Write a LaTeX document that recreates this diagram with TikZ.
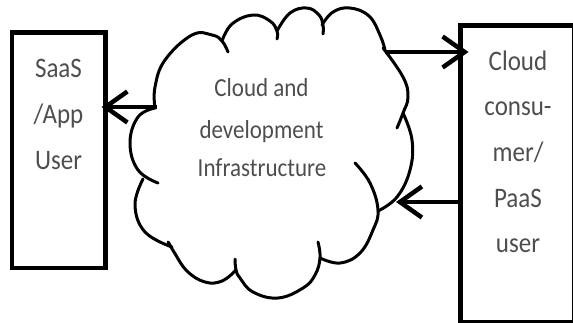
\documentclass[tikz,border=0pt]{standalone}
\usepackage{fontspec}
\setmainfont{Carlito}
\usetikzlibrary{arrows.meta}
\definecolor{labelgray}{RGB}{78,78,78}
% labels are set slightly condensed-looking: stretched upward a little
\newcommand\tallword[1]{\scalebox{1}[1.13]{#1}}
\begin{document}
\begin{tikzpicture}[x=1pt,y=-1pt,
  box/.style={draw=black, line width=4.5pt, inner sep=0pt, outer sep=0pt},
  lbl/.style={anchor=base, inner sep=0pt, text=labelgray, font=\fontsize{25}{30}\selectfont},
  cloudlbl/.style={lbl, font=\fontsize{23}{28}\selectfont},
  puff/.style={line width=3pt, line cap=round, line join=round},
  flow/.style={line width=4.5pt, -{Straight Barb[length=22pt, width=31pt]}}]
\useasboundingbox (0,0) rectangle (573,322);
\clip (0,0) rectangle (573,322);

% the two user boxes
\node[box, minimum width=93.5pt, minimum height=235.5pt] (lbox) at (58.75,150.25) {};
\node[box, minimum width=114pt, minimum height=297pt] (rbox) at (517.5,174) {};

% box labels
\node[lbl] (l1) at (58.5,77) {\tallword{SaaS}};
\node[lbl] (l2) at (58.5,123) {\tallword{/App}};
\node[lbl] (l3) at (58.5,169.5) {\tallword{User}};

\node[lbl] (r1) at (518,70) {\tallword{Cloud}};
\node[lbl] (r2) at (518,115.5) {\tallword{consu-}};
\node[lbl] (r3) at (518,161.5) {\tallword{mer/}};
\node[lbl] (r4) at (518,207) {\tallword{PaaS}};
\node[lbl] (r5) at (518,252) {\tallword{user}};

% the cloud, one puff at a time (hooks continue a puff inside the outline)
\draw[puff] plot[smooth, tension=0.7] coordinates {(155,108) (155,87) (165,60) (192,35) (212,35) (222,41) (228,52)};
\draw[puff] plot[smooth, tension=0.7] coordinates {(222,41) (232,24) (253,15) (270,21) (277,31) (277,39)};
\draw[puff] plot[smooth, tension=0.7] coordinates {(277,31) (290,13) (307,8) (319,15) (323,25) (323,34)};
\draw[puff] plot[smooth, tension=0.7] coordinates {(322,25) (333,12) (350,8) (369,16) (380,35) (385,50)};
\draw[puff] plot[smooth, tension=0.7] coordinates {(383,48) (403,77) (408,97) (403,113) (397,128)};
\draw[puff] plot[smooth, tension=0.7] coordinates {(403,113) (412,140) (410,170) (397,197) (378,211)};
\draw[puff] plot[smooth, tension=0.7] coordinates {(320,258) (340,263) (360,253) (373,230) (378,210) (370,183) (355,163)};
\draw[puff] plot[smooth, tension=0.7] coordinates {(318,242) (320,258) (315,275) (303,288) (278,298) (253,292) (240,278) (236,270) (235,259)};
\draw[puff] plot[smooth, tension=0.7] coordinates {(236,270) (222,281) (205,282) (187,271) (174,252) (170,245) (168,242)};
\draw[puff] plot[smooth, tension=0.7] coordinates {(172,247) (145,232) (135,205) (143,179)};
\draw[puff] plot[smooth, tension=0.7] coordinates {(155,108) (138,117) (130,143) (138,170) (158,183)};

\node[cloudlbl] (c1) at (261.5,96.5) {\tallword{Cloud and}};
\node[cloudlbl] (c2) at (261.5,138) {\tallword{development}};
\node[cloudlbl] (c3) at (262,176.5) {\tallword{Infrastructure}};

% where the connectors meet the cloud
\coordinate (cloudW) at (157,107);
\coordinate (cloudNE) at (385,52);
\coordinate (cloudE) at (396,202);

% connectors
\draw[flow, shorten >=-4pt] (cloudW) -- (lbox.east |- cloudW);
\draw[flow, shorten >=-8pt] (cloudNE) -- (rbox.west |- cloudNE);
\draw[flow] (rbox.west |- cloudE) -- (cloudE);
\end{tikzpicture}
\end{document}
